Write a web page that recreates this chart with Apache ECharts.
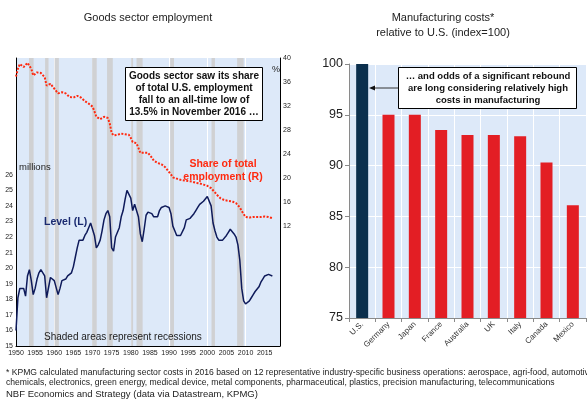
<!DOCTYPE html>
<html>
<head>
<meta charset="utf-8">
<script src="https://cdn.jsdelivr.net/npm/echarts@6/dist/echarts.min.js"></script>
<style>
  html, body { margin: 0; padding: 0; background: #fff; }
  #chart { width: 587px; height: 399px; }
</style>
</head>
<body>
<div id="chart"></div>
<script>
// goods sector employment, millions, half-year readings 1950.0 .. 2017.0
const levelValues = [
  16.0, 18.1, 18.7, 18.6, 18.7, 18.2, 19.5, 19.9, 19.2, 18.3,
  18.7, 19.3, 19.7, 19.9, 19.8, 19.5, 18.1, 18.2, 19.4, 19.5,
  19.2, 19.1, 18.3, 18.7, 19.2, 19.3, 19.3, 19.5, 19.5, 19.7,
  20.1, 20.7, 21.3, 21.8, 21.9, 21.8, 22.1, 22.3, 22.6, 22.9,
  22.9, 22.1, 21.3, 21.5, 21.8, 22.4, 23.1, 23.5, 23.7, 23.3,
  21.3, 21.1, 22.0, 22.1, 22.6, 23.3, 23.7, 24.4, 25.0, 25.0,
  24.5, 23.7, 24.1, 24.2, 23.3, 22.2, 21.7, 22.5, 23.4, 23.6,
  23.6, 23.5, 23.3, 23.2, 23.3, 23.7, 23.9, 24.0, 24.0, 24.0,
  23.9, 23.5, 22.7, 22.4, 22.1, 22.0, 22.1, 22.2, 22.6, 23.1,
  23.2, 23.2, 23.3, 23.5, 23.7, 23.9, 24.1, 24.2, 24.3, 24.3,
  24.6, 24.7, 24.0, 22.9, 22.4, 22.0, 21.8, 21.7, 21.8, 21.9,
  22.1, 22.3, 22.5, 22.4, 22.2, 22.0, 21.5, 20.5, 18.7, 17.9,
  17.7, 17.8, 17.9, 18.1, 18.3, 18.5, 18.6, 18.8, 19.1, 19.3,
  19.5, 19.5, 19.6, 19.5, 19.5
];
// share of total employment, %, same dates
const shareValues = [
  36.9, 38.2, 39.0, 38.7, 38.5, 38.7, 39.2, 39.0, 38.2, 37.1,
  37.4, 37.6, 37.6, 37.5, 37.4, 36.8, 35.4, 35.2, 35.7, 35.9,
  34.9, 34.6, 34.1, 34.3, 34.3, 34.2, 34.1, 33.8, 33.5, 33.5,
  33.4, 33.5, 33.7, 33.7, 33.4, 33.1, 32.8, 32.6, 32.4, 32.3,
  31.9, 31.1, 30.2, 30.0, 29.8, 30.0, 30.2, 30.2, 30.0, 29.1,
  27.5, 27.1, 27.2, 27.2, 27.2, 27.4, 27.5, 27.3, 27.5, 27.2,
  26.7, 26.0, 26.1, 25.8, 25.0, 24.2, 23.9, 24.2, 24.5, 24.2,
  23.8, 23.4, 22.9, 22.7, 22.5, 22.4, 22.3, 22.1, 21.8, 21.4,
  21.1, 20.6, 20.1, 19.9, 19.9, 19.8, 19.7, 19.6, 19.6, 19.5,
  19.5, 19.4, 19.4, 19.3, 19.2, 19.2, 19.1, 19.0, 18.9, 18.8,
  18.7, 18.5, 18.3, 18.0, 17.6, 17.2, 16.9, 16.6, 16.4, 16.3,
  16.3, 16.2, 16.2, 16.1, 16.0, 15.8, 15.6, 15.1, 14.5, 14.0,
  13.5, 13.4, 13.4, 13.4, 13.5, 13.5, 13.5, 13.5, 13.5, 13.6,
  13.6, 13.6, 13.5, 13.4, 13.3
];
const years = levelValues.map((_, i) => 1950 + i / 2);

const recessions = [
  [1953.4, 1954.6], [1957.6, 1958.5], [1960.1, 1961.2], [1969.9, 1971.1],
  [1973.8, 1975.3], [1980.1, 1980.6], [1981.5, 1983.1], [1990.3, 1991.3],
  [2001.1, 2002.0], [2007.8, 2009.5]
];

const countries = ['U.S.', 'Germany', 'Japan', 'France', 'Australia', 'UK', 'Italy', 'Canada', 'Mexico'];
const costValues = [100, 95.0, 95.0, 93.5, 93.0, 93.0, 92.9, 90.3, 86.1];

const footLines = [
  '* KPMG calculated manufacturing sector costs in 2016 based on 12 representative industry-specific business operations: aerospace, agri-food, automotive,',
  'chemicals, electronics, green energy, medical device, metal components, pharmaceutical, plastics, precision manufacturing, telecommunications'
];

const font = '"Liberation Sans", Arial, sans-serif';
const narrow = '"Liberation Sans Narrow", "Liberation Sans", Arial, sans-serif';
const plotBg = '#dde9f9';
const navy = '#0e1a5a';
const red = '#ff2a10';

const chart = echarts.init(document.getElementById('chart'));

const txt = (x, y, text, opt) => ({
  type: 'text', x, y, silent: true, z: 50,
  style: Object.assign({ text, font: '11px ' + font, fill: '#222', textAlign: 'left', textVerticalAlign: 'middle' }, opt || {})
});

const option = {
  animation: false,
  grid: [
    { left: 16, top: 58, width: 264, height: 288, show: true, backgroundColor: plotBg, borderWidth: 0 },
    { left: 349, top: 64, width: 237, height: 254, show: true, backgroundColor: plotBg, borderWidth: 0 }
  ],
  xAxis: [
    {
      type: 'value', gridIndex: 0, min: 1950, max: 2019, interval: 5,
      axisLine: { onZero: false, lineStyle: { color: '#000' } },
      axisTick: { show: false },
      splitLine: { show: false },
      axisLabel: {
        fontSize: 7, fontFamily: narrow, color: '#222', margin: 4,
        formatter: v => (v <= 2015 ? String(v) : '')
      }
    },
    {
      // decade gridlines
      type: 'value', gridIndex: 0, min: 1950, max: 2019, interval: 10,
      axisLine: { show: false }, axisTick: { show: false }, axisLabel: { show: false },
      splitLine: { show: true, lineStyle: { color: '#fff', width: 1 } }
    },
    {
      type: 'category', gridIndex: 1, data: countries,
      axisLine: { lineStyle: { color: '#8a8a8a' } },
      axisTick: { show: true, length: 4, lineStyle: { color: '#8a8a8a' } },
      splitLine: { show: true, lineStyle: { color: '#fff', width: 1 } },
      axisLabel: { rotate: 45, fontSize: 8, fontFamily: font, color: '#333', interval: 0, margin: 5 }
    }
  ],
  yAxis: [
    {
      type: 'value', gridIndex: 0, min: 15, max: 33.5, interval: 1,
      axisLine: { show: true, onZero: false, lineStyle: { color: '#000' } },
      axisTick: { show: false },
      splitLine: { show: false },
      axisLabel: {
        fontSize: 7, fontFamily: narrow, color: '#222', margin: 3,
        formatter: v => (v <= 26 && Number.isInteger(v) ? String(v) : '')
      }
    },
    {
      type: 'value', gridIndex: 0, position: 'right', min: -8, max: 40, interval: 4,
      axisLine: { show: true, onZero: false, lineStyle: { color: '#000' } },
      axisTick: { show: false },
      splitLine: { show: false },
      axisLabel: {
        fontSize: 7, fontFamily: narrow, color: '#222', margin: 3,
        formatter: v => (v >= 12 ? String(v) : '')
      }
    },
    {
      type: 'value', gridIndex: 1, min: 75, max: 100, interval: 5,
      axisLine: { show: true, lineStyle: { color: '#8a8a8a' } },
      axisTick: { show: true, length: 4, lineStyle: { color: '#8a8a8a' } },
      splitLine: { show: true, lineStyle: { color: '#fff', width: 1 } },
      axisLabel: { fontSize: 12.5, fontFamily: font, color: '#222', margin: 6 }
    }
  ],
  series: [
    {
      name: 'Level (L)', type: 'line', xAxisIndex: 0, yAxisIndex: 0,
      data: years.map((y, i) => [y, levelValues[i]]),
      showSymbol: false, z: 4,
      lineStyle: { color: navy, width: 1.5 },
      markArea: {
        silent: true,
        itemStyle: { color: '#d0d1d3' },
        data: recessions.map(r => [{ xAxis: r[0] }, { xAxis: r[1] }])
      }
    },
    {
      name: 'Share of total employment (R)', type: 'line', xAxisIndex: 0, yAxisIndex: 1,
      data: years.map((y, i) => [y, shareValues[i]]),
      showSymbol: false, z: 3,
      lineStyle: { color: red, width: 2, type: [2, 1.5] }
    },
    {
      type: 'bar', xAxisIndex: 2, yAxisIndex: 2,
      data: costValues, barWidth: 12,
      itemStyle: { color: p => (p.dataIndex === 0 ? '#0b2f4d' : '#e31e24') }
    }
  ],
  graphic: [
    txt(148, 18, 'Goods sector employment', { textAlign: 'center' }),
    txt(443, 18, 'Manufacturing costs*', { textAlign: 'center' }),
    txt(443, 33, 'relative to U.S. (index=100)', { textAlign: 'center' }),
    txt(272, 70, '%', { font: '9px ' + font }),
    txt(19, 167, 'millions', { font: '9.5px ' + font }),
    txt(223, 164, 'Share of total', { textAlign: 'center', fill: red, font: 'bold 10.5px ' + font }),
    txt(223, 177, 'employment (R)', { textAlign: 'center', fill: red, font: 'bold 10.5px ' + font }),
    txt(44, 222, 'Level (L)', { fill: '#1a2a70', font: 'bold 10.5px ' + font }),
    txt(44, 337, 'Shaded areas represent recessions', { font: '10px ' + font }),
    {
      type: 'rect', silent: true, shape: { x: 125.5, y: 67.5, width: 137, height: 53 },
      style: { fill: '#fff', stroke: '#000', lineWidth: 1 }, z: 60
    },
    {
      type: 'text', silent: true, x: 194, y: 94, z: 61,
      style: {
        text: 'Goods sector saw its share\nof total U.S. employment\nfall to an all-time low of\n13.5% in November 2016 \u2026',
        font: 'bold 10px ' + font, fill: '#111', textAlign: 'center', textVerticalAlign: 'middle', lineHeight: 12
      }
    },
    {
      type: 'rect', silent: true, shape: { x: 398.5, y: 67.5, width: 178, height: 41 },
      style: { fill: '#fff', stroke: '#000', lineWidth: 1 }, z: 60
    },
    {
      type: 'text', silent: true, x: 488, y: 88, z: 61,
      style: {
        text: '\u2026 and odds of a significant rebound\nare long considering relatively high\ncosts in manufacturing',
        font: 'bold 9.5px ' + font, fill: '#111', textAlign: 'center', textVerticalAlign: 'middle', lineHeight: 12
      }
    },
    {
      type: 'line', silent: true, z: 60,
      shape: { x1: 398, y1: 88, x2: 373, y2: 88 },
      style: { stroke: '#333', lineWidth: 1 }
    },
    {
      type: 'polygon', silent: true, z: 60,
      shape: { points: [[369, 88], [375, 85.5], [375, 90.5]] },
      style: { fill: '#111' }
    },
    txt(6, 373, footLines[0], { font: '8.6px ' + font }),
    txt(6, 383, footLines[1], { font: '8.6px ' + font }),
    txt(6, 394, 'NBF Economics and Strategy (data via Datastream, KPMG)', { font: '9.5px ' + font })
  ]
};

chart.setOption(option);
</script>
</body>
</html>
